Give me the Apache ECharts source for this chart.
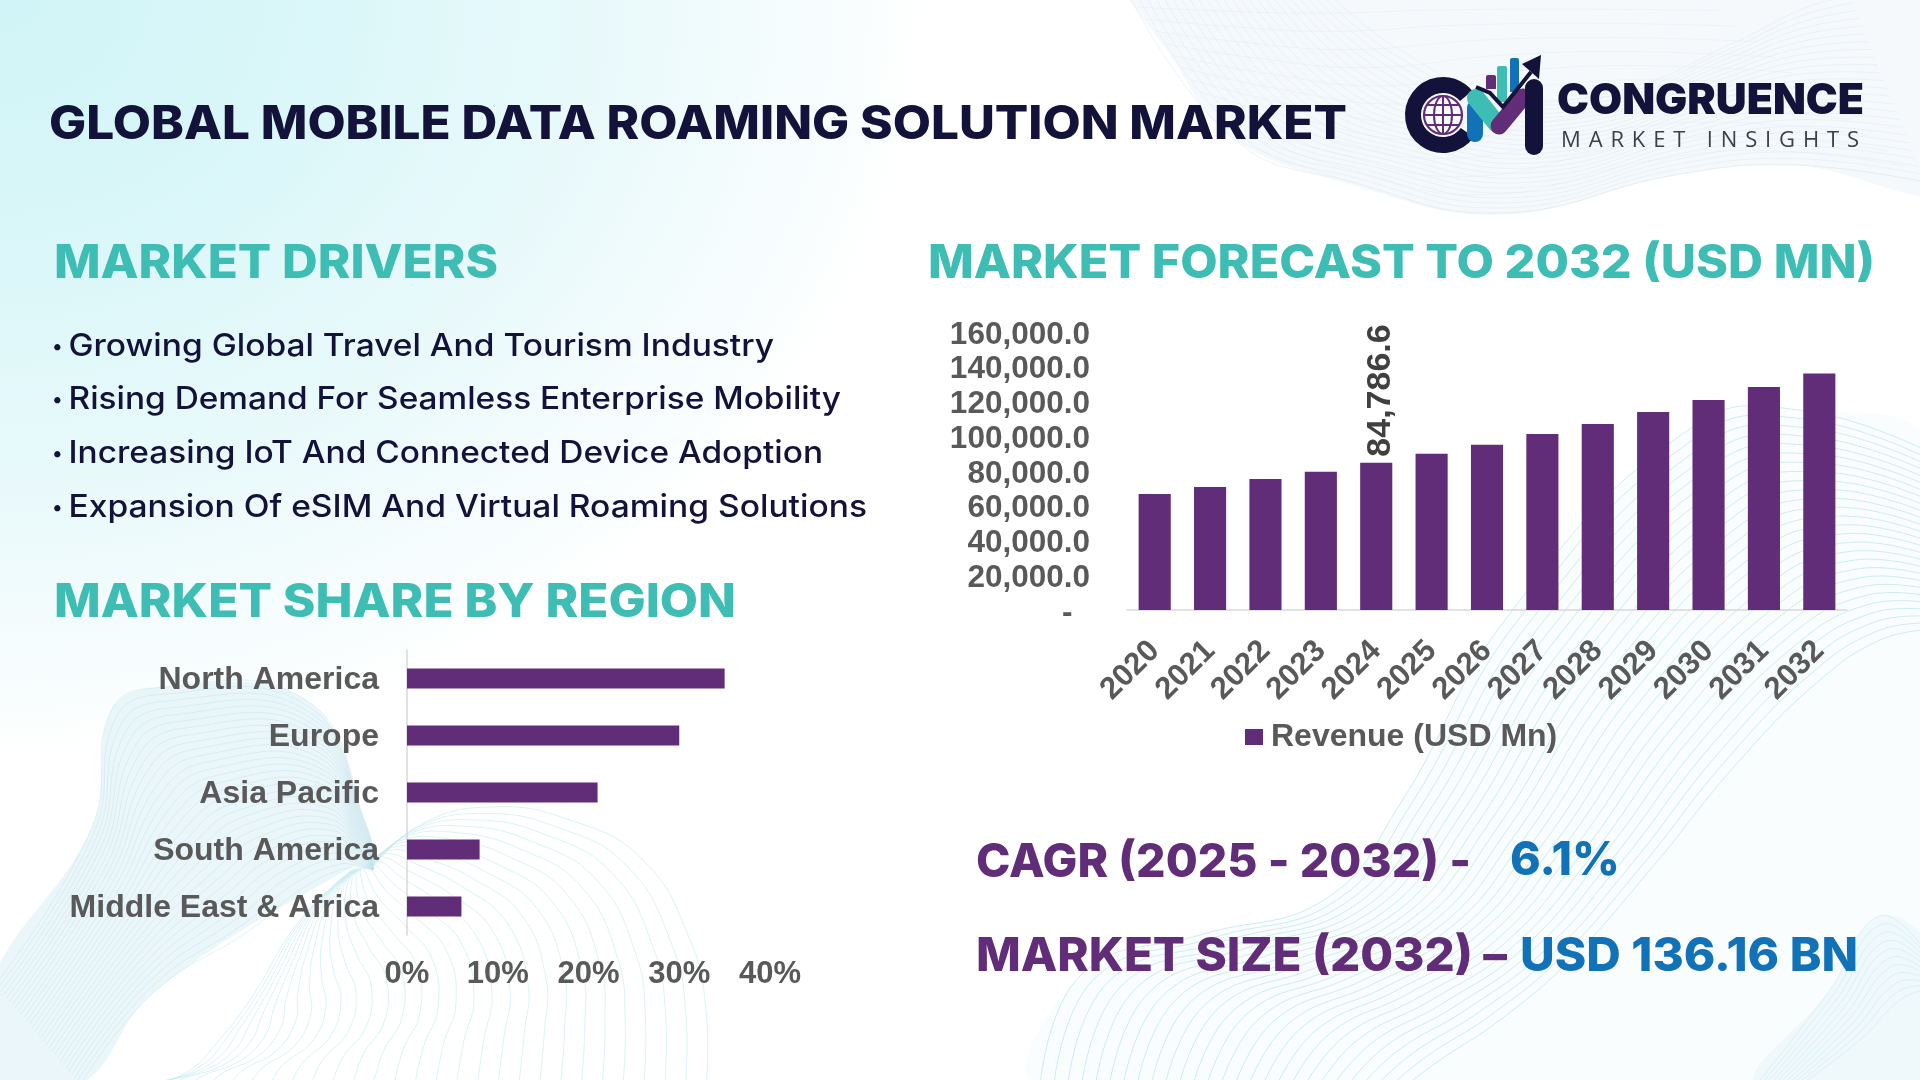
<!DOCTYPE html>
<html>
<head>
<meta charset="utf-8">
<script src="https://cdn.jsdelivr.net/npm/echarts@6/dist/echarts.min.js"></script>
<style>
html,body{margin:0;padding:0;width:1920px;height:1080px;overflow:hidden;background:#fff}
#bg{position:absolute;left:0;top:0;width:1920px;height:1080px;
background:radial-gradient(ellipse 930px 760px at 0 0,#d0f4f7 0%,#dbf7f9 35%,#ebfafb 68%,#f8fdfe 90%,#ffffff 100%)}
#c{position:absolute;left:0;top:0;width:1920px;height:1080px}
#tag{position:absolute;left:1561px;top:124px;font:400 22px "Open Sans",sans-serif;letter-spacing:7.85px;color:#3c3f48;white-space:nowrap;line-height:28px}
</style>
</head>
<body>
<div id="bg"></div>
<div id="c"></div>
<div id="tag">MARKET INSIGHTS</div>
<script>
const years = ['2020','2021','2022','2023','2024','2025','2026','2027','2028','2029','2030','2031','2032'];
const revenue = [66800,70800,75400,79500,84786.6,89900,95100,101300,107000,113900,120800,128300,136160];
const labelledYear = '2024';
const regions = ['North America','Europe','Asia Pacific','South America','Middle East & Africa'];
const shares = [35,30,21,8,6];
const drivers = [
  ['Growing Global Travel And Tourism Industry',344,774],
  ['Rising Demand For Seamless Enterprise Mobility',397,841],
  ['Increasing IoT And Connected Device Adoption',451,823],
  ['Expansion Of eSIM And Virtual Roaming Solutions',505,867]
];

const NAVY='#12123a', TEAL='#3dbdb3', PURPLE='#622d78', BLUE='#1272b8', GREY='#595959';
const AX='"Liberation Sans",Arial,sans-serif', HEAD='Inter,sans-serif';
const mctx=document.createElement('canvas').getContext('2d');
function fit(text,x0,x1,cy,size,weight,fill,fam){
  const font=`${weight} ${size}px ${fam||HEAD}`;
  mctx.font=font;
  return {type:'text',x:x0,y:cy+3,scaleX:(x1-x0)/mctx.measureText(text).width,silent:true,z:5,
    style:{text,font,fill,align:'left',verticalAlign:'middle'}};
}
function family(A,B,n,color,alpha,lw){
  const out=[];
  for(let i=0;i<=n;i++){
    const t=i/n;
    out.push({type:'polyline',silent:true,z:-5,
      shape:{points:A.map((p,j)=>[p[0]+(B[j][0]-p[0])*t,p[1]+(B[j][1]-p[1])*t]),smooth:0.45},
      style:{stroke:color,lineWidth:lw||1,opacity:alpha,fill:null}});
  }
  return out;
}
function blob(points,fill,alpha){
  return {type:'polygon',silent:true,z:-6,shape:{points,smooth:0.4},style:{fill,opacity:alpha}};
}
const waves=[
  blob([[1129,-40],[1180,70],[1235,140],[1352,185],[1500,215],[1675,175],[1792,165],[1960,185],[1960,-40]],'#edf3f9',0.5),
  ...family([[1129,-5],[1235,140],[1352,182],[1500,213],[1675,175],[1792,165],[1925,182]],
            [[1330,-5],[1400,50],[1500,95],[1620,90],[1740,40],[1800,10],[1850,-5]],24,'#dfe9f3',0.55),
  ...family([[1129,-5],[1200,-5],[1300,-5],[1420,-5],[1560,-5],[1700,-5]],
            [[1235,140],[1352,182],[1500,213],[1675,175],[1792,165],[1925,182]],12,'#dfe9f3',0.4),
  blob([[110,713],[153,688],[306,700],[367,827],[373,867],[352,867],[153,993],[80,1085],[-10,1085],[-10,985],[92,827]],'#d9eef4',0.55),
  ...family([[-5,985],[92,827],[110,713],[153,688],[306,700],[367,827],[373,870]],
            [[80,1085],[153,993],[250,930],[300,890],[340,870],[360,868],[373,870]],30,'#bcdfe9',0.4),
  ...family([[373,867],[420,825],[490,807],[570,820],[643,860],[690,940],[706,1010],[706,1090]],
            [[352,870],[300,920],[250,1000],[215,1045],[190,1070],[150,1085],[100,1090],[80,1090]],30,'#c5e9ee',0.6),
  blob([[1040,1085],[1082,974],[1200,935],[1327,898],[1400,804],[1511,612],[1695,425],[1800,410],[1930,450],[1930,1085]],'#eaf6f9',0.22),
  ...family([[1040,1085],[1082,974],[1200,935],[1327,898],[1400,804],[1511,612],[1695,425],[1800,410],[1925,450]],
            [[1400,1090],[1440,1060],[1500,1020],[1570,960],[1650,870],[1740,760],[1820,680],[1880,640],[1925,630]],26,'#b5e2ea',0.65),
  blob([[1756,1085],[1830,990],[1879,916],[1930,950],[1930,1085]],'#d9eef4',0.35),
  ...family([[1756,1085],[1830,990],[1879,916],[1925,950]],[[1800,1085],[1860,1040],[1900,1000],[1925,990]],10,'#bfe4ec',0.4)
];
function seg(a,b,color,w){return {type:'line',silent:true,z:3,shape:{x1:a[0],y1:a[1],x2:b[0],y2:b[1]},style:{stroke:color,lineWidth:w,lineCap:'round'}};}
function bar(x,y,w,h,color){return {type:'rect',silent:true,z:3,shape:{x,y,width:w,height:h,r:[2,2,0,0]},style:{fill:color}};}
const G=[1443,115];
const logo=[
  bar(1486,75,10,14,PURPLE), bar(1497,66,10,36,TEAL), bar(1510,58,9,34,BLUE),
  {type:'arc',silent:true,z:3,shape:{cx:G[0],cy:G[1],r:30,startAngle:Math.PI*0.2,endAngle:Math.PI*1.78,clockwise:true},style:{stroke:NAVY,lineWidth:16,fill:null}},
  {type:'circle',silent:true,z:3,shape:{cx:G[0],cy:G[1],r:19},style:{stroke:PURPLE,lineWidth:2.2,fill:'rgba(255,255,255,0.5)'}},
  {type:'ellipse',silent:true,z:3,shape:{cx:G[0],cy:G[1],rx:9,ry:19},style:{stroke:PURPLE,lineWidth:2,fill:null}},
  seg([G[0],96],[G[0],134],PURPLE,2), seg([G[0]-19,115],[G[0]+19,115],PURPLE,2),
  seg([G[0]-16,105],[G[0]+16,105],PURPLE,2), seg([G[0]-16,125],[G[0]+16,125],PURPLE,2),
  seg([1475,108],[1475,134],BLUE,16),
  seg([1476,98],[1497,124],TEAL,18),
  seg([1499,126],[1523,97],PURPLE,17),
  seg([1534,88],[1534,146],NAVY,18),
  {type:'polyline',silent:true,z:4,shape:{points:[[1476,87],[1490,93],[1503,107],[1531,72]]},style:{stroke:NAVY,lineWidth:4,fill:null}},
  {type:'polygon',silent:true,z:4,shape:{points:[[1541,55],[1522,64],[1539,79]]},style:{fill:NAVY}}
];
const texts=[
  fit('GLOBAL MOBILE DATA ROAMING SOLUTION MARKET',49,1347,122,46,800,NAVY),
  fit('MARKET DRIVERS',54,498,261,46,800,TEAL),
  fit('MARKET FORECAST TO 2032 (USD MN)',928,1875,261,46,800,TEAL),
  fit('MARKET SHARE BY REGION',54,736,600,46,800,TEAL),
  ...drivers.flatMap(d=>[
    {type:'text',x:52,y:d[1]+3,silent:true,z:5,style:{text:'•',font:`500 20px ${HEAD}`,fill:NAVY,align:'left',verticalAlign:'middle'}},
    fit(d[0],68.5,d[2],d[1],31,500,NAVY)]),
  fit('CAGR (2025 - 2032) -',976,1471,860,47,800,PURPLE),
  fit('6.1%',1510,1620,858,47,800,BLUE),
  fit('MARKET SIZE (2032) –',976,1507,954,47,800,PURPLE),
  fit('USD 136.16 BN',1520,1858,954,47,800,BLUE),
  fit('CONGRUENCE',1557,1864,98,42,900,NAVY)
];

const chart=echarts.init(document.getElementById('c'),null,{renderer:'canvas'});
const axisText=s=>({fontFamily:AX,fontWeight:'bold',fontSize:s,color:GREY});
chart.setOption({
  animation:false,
  backgroundColor:'transparent',
  graphic:{elements:[...waves,...logo,...texts]},
  legend:{show:true,data:['Revenue (USD Mn)'],left:1245,top:721,padding:0,itemWidth:18,itemHeight:16,icon:'rect',
    selectedMode:false,textStyle:{...axisText(32),padding:[5,0,0,3]}},
  grid:[
    {left:407,top:650,width:363,height:285,containLabel:false},
    {left:1127,top:332,width:720,height:278,containLabel:false}
  ],
  xAxis:[
    {type:'value',gridIndex:0,min:0,max:40,interval:10,
      axisLine:{show:false},axisTick:{show:false},splitLine:{show:false},
      axisLabel:{...axisText(31),margin:24,formatter:'{value}%'}},
    {type:'category',gridIndex:1,data:years,
      axisLine:{show:true,lineStyle:{color:'#d9d9d9',width:1.5}},axisTick:{show:false},
      axisLabel:{...axisText(31),rotate:45,interval:0,margin:36}}
  ],
  yAxis:[
    {type:'category',gridIndex:0,data:regions,inverse:true,
      axisLine:{show:true,lineStyle:{color:'#d9d9d9',width:1.5}},axisTick:{show:false},
      axisLabel:{...axisText(32),margin:28,interval:0,verticalAlign:'top',lineHeight:3}},
    {type:'value',gridIndex:1,min:0,max:160000,interval:20000,
      axisLine:{show:false},axisTick:{show:false},splitLine:{show:false},
      axisLabel:{...axisText(31.5),margin:37,verticalAlign:'top',lineHeight:6,
        formatter:v=>v===0?'-\u00a0\u00a0':v.toLocaleString('en-US',{minimumFractionDigits:1,maximumFractionDigits:1})}}
  ],
  series:[
    {type:'bar',name:'Share',xAxisIndex:0,yAxisIndex:0,data:shares,barWidth:20,itemStyle:{color:PURPLE}},
    {type:'bar',name:'Revenue (USD Mn)',xAxisIndex:1,yAxisIndex:1,barWidth:'58%',itemStyle:{color:PURPLE},
      data:revenue.map((v,i)=>years[i]===labelledYear?{value:v,label:{show:true,position:'top',distance:6,rotate:90,
        align:'left',verticalAlign:'middle',offset:[0,4],fontFamily:AX,fontWeight:'bold',fontSize:34,color:'#404040',
        formatter:p=>p.value.toLocaleString('en-US',{minimumFractionDigits:1})}}:v)}
  ]
});
</script>
</body>
</html>
